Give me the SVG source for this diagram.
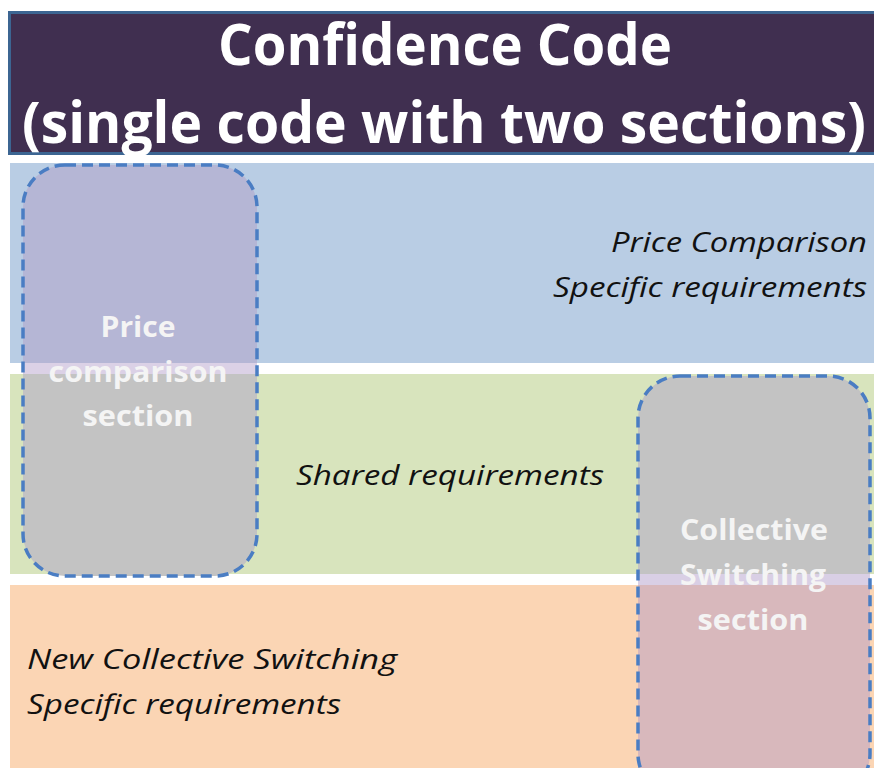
<svg xmlns="http://www.w3.org/2000/svg" width="874" height="768" viewBox="0 0 874 768">
  <style>
    .req { font-family: "Open Sans", "Noto Sans", "Liberation Sans", sans-serif; font-style: italic; font-size: 27px; fill: #111111; }
    .sec { font-family: "Open Sans", "Noto Sans", "Liberation Sans", sans-serif; font-weight: 700; font-size: 29px; fill: #f4f4f4; text-anchor: middle; }
    .title { font-family: "Open Sans", "Noto Sans", "Liberation Sans", sans-serif; font-weight: 700; font-size: 58px; fill: #ffffff; }
    .dash { fill: none; stroke: #4a7dc3; stroke-width: 3.5; stroke-dasharray: 11 6; }
  </style>
  <defs>
    <clipPath id="clipPrice"><rect x="23" y="165" width="234" height="411" rx="42"/></clipPath>
    <clipPath id="clipSwitch"><rect x="638" y="376" width="232" height="420" rx="42"/></clipPath>
  </defs>

  <rect width="874" height="768" fill="#ffffff"/>

  <!-- header -->
  <g id="header">
    <rect x="9.5" y="12.5" width="868" height="141" fill="#402f50" stroke="#3c6592" stroke-width="3"/>
    <text class="title" x="445" y="65" text-anchor="middle" textLength="454" lengthAdjust="spacingAndGlyphs">Confidence Code</text>
    <text class="title" x="444" y="143" text-anchor="middle" textLength="844" lengthAdjust="spacingAndGlyphs">(single code with two sections)</text>
  </g>

  <!-- requirement bands -->
  <g id="band-price">
    <rect x="10" y="163" width="864" height="200" fill="#b9cde4"/>
    <text class="req" x="867" y="252" text-anchor="end" textLength="256" lengthAdjust="spacingAndGlyphs">Price Comparison</text>
    <text class="req" x="867" y="297" text-anchor="end" textLength="314" lengthAdjust="spacingAndGlyphs">Specific requirements</text>
  </g>
  <g id="band-shared">
    <rect x="10" y="374" width="864" height="200" fill="#d8e4bd"/>
    <text class="req" x="296" y="485" textLength="308" lengthAdjust="spacingAndGlyphs">Shared requirements</text>
  </g>
  <g id="band-switching">
    <rect x="10" y="585" width="864" height="183" fill="#fbd5b4"/>
    <text class="req" x="27" y="669" textLength="370" lengthAdjust="spacingAndGlyphs">New Collective Switching</text>
    <text class="req" x="27" y="714" textLength="314" lengthAdjust="spacingAndGlyphs">Specific requirements</text>
  </g>

  <!-- section outlines -->
  <g id="price-section">
    <g clip-path="url(#clipPrice)">
      <rect x="20" y="160" width="240" height="203" fill="#b5b6d5"/>
      <rect x="20" y="363" width="240" height="11" fill="#dbd1e6"/>
      <rect x="20" y="374" width="240" height="205" fill="#c3c3c3"/>
    </g>
    <rect class="dash" x="23" y="165" width="234" height="411" rx="42"/>
    <text class="sec" x="138" y="337" textLength="75" lengthAdjust="spacingAndGlyphs">Price</text>
    <text class="sec" x="138" y="382" textLength="179" lengthAdjust="spacingAndGlyphs">comparison</text>
    <text class="sec" x="138" y="426" textLength="111" lengthAdjust="spacingAndGlyphs">section</text>
  </g>

  <g id="switching-section">
    <g clip-path="url(#clipSwitch)">
      <rect x="635" y="370" width="240" height="204" fill="#c3c3c3"/>
      <rect x="635" y="574" width="240" height="11" fill="#d9cfe5"/>
      <rect x="635" y="585" width="240" height="190" fill="#d8b8bc"/>
    </g>
    <rect class="dash" x="638" y="376" width="232" height="420" rx="42"/>
    <text class="sec" x="754" y="540" textLength="148" lengthAdjust="spacingAndGlyphs">Collective</text>
    <text class="sec" x="753" y="585" textLength="146" lengthAdjust="spacingAndGlyphs">Switching</text>
    <text class="sec" x="753" y="630" textLength="111" lengthAdjust="spacingAndGlyphs">section</text>
  </g>

  <!-- no connectors in this figure -->
  <g id="connectors"/>
</svg>
